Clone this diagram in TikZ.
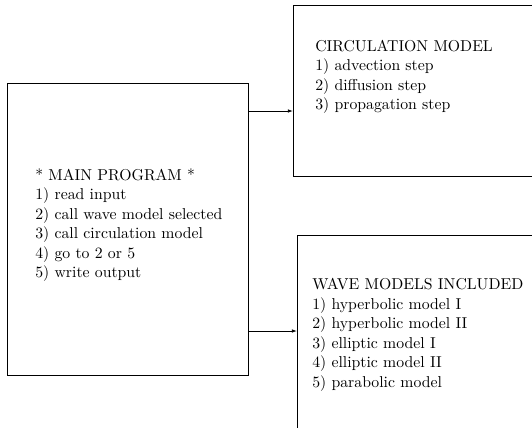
\documentclass[tikz,border=0pt]{standalone}
\usetikzlibrary{arrows.meta}

\begin{document}
\begin{tikzpicture}[x=0.625pt, y=-0.625pt, >={Latex[length=3.2pt,width=2.2pt]}, line join=miter,
  box/.style={draw, line width=0.8pt, anchor=north west, inner sep=0pt},
  txt/.style={anchor=west, align=left, inner sep=0pt, font=\fontsize{9.85}{12.2}\selectfont},
  link/.style={->, line width=0.5pt}]
  \useasboundingbox (0,0) rectangle (532,427);
  \clip (0,0) rectangle (532,427);
  % the three boxes
  \node[box, minimum width=241*0.625pt, minimum height=292*0.625pt] (main) at (7,83) {};
  \node[box, minimum width=260*0.625pt, minimum height=171*0.625pt] (circ) at (293,5) {};
  \node[box, minimum width=260*0.625pt, minimum height=220*0.625pt] (wave) at (297,235) {};
  % their texts
  \node[txt] (maintxt) at (35,225) {* MAIN PROGRAM *\\ 1) read input\\ 2) call wave model selected\\
    3) call circulation model\\ 4) go to 2 or 5\\ 5) write output};
  \node[txt] (circtxt) at (315,77) {CIRCULATION MODEL\\ 1) advection step\\ 2) diffusion step\\
    3) propagation step};
  \node[txt] (wavetxt) at (312,335) {WAVE MODELS INCLUDED\\ 1) hyperbolic model I\\
    2) hyperbolic model II\\ 3) elliptic model I\\ 4) elliptic model II\\ 5) parabolic model};
  % calls
  \coordinate (out1) at (248,111);
  \coordinate (out2) at (248,331);
  \draw[link] (out1) -- (out1 -| circ.west);
  \draw[link] (out2) -- (out2 -| wave.west);
\end{tikzpicture}
\end{document}
